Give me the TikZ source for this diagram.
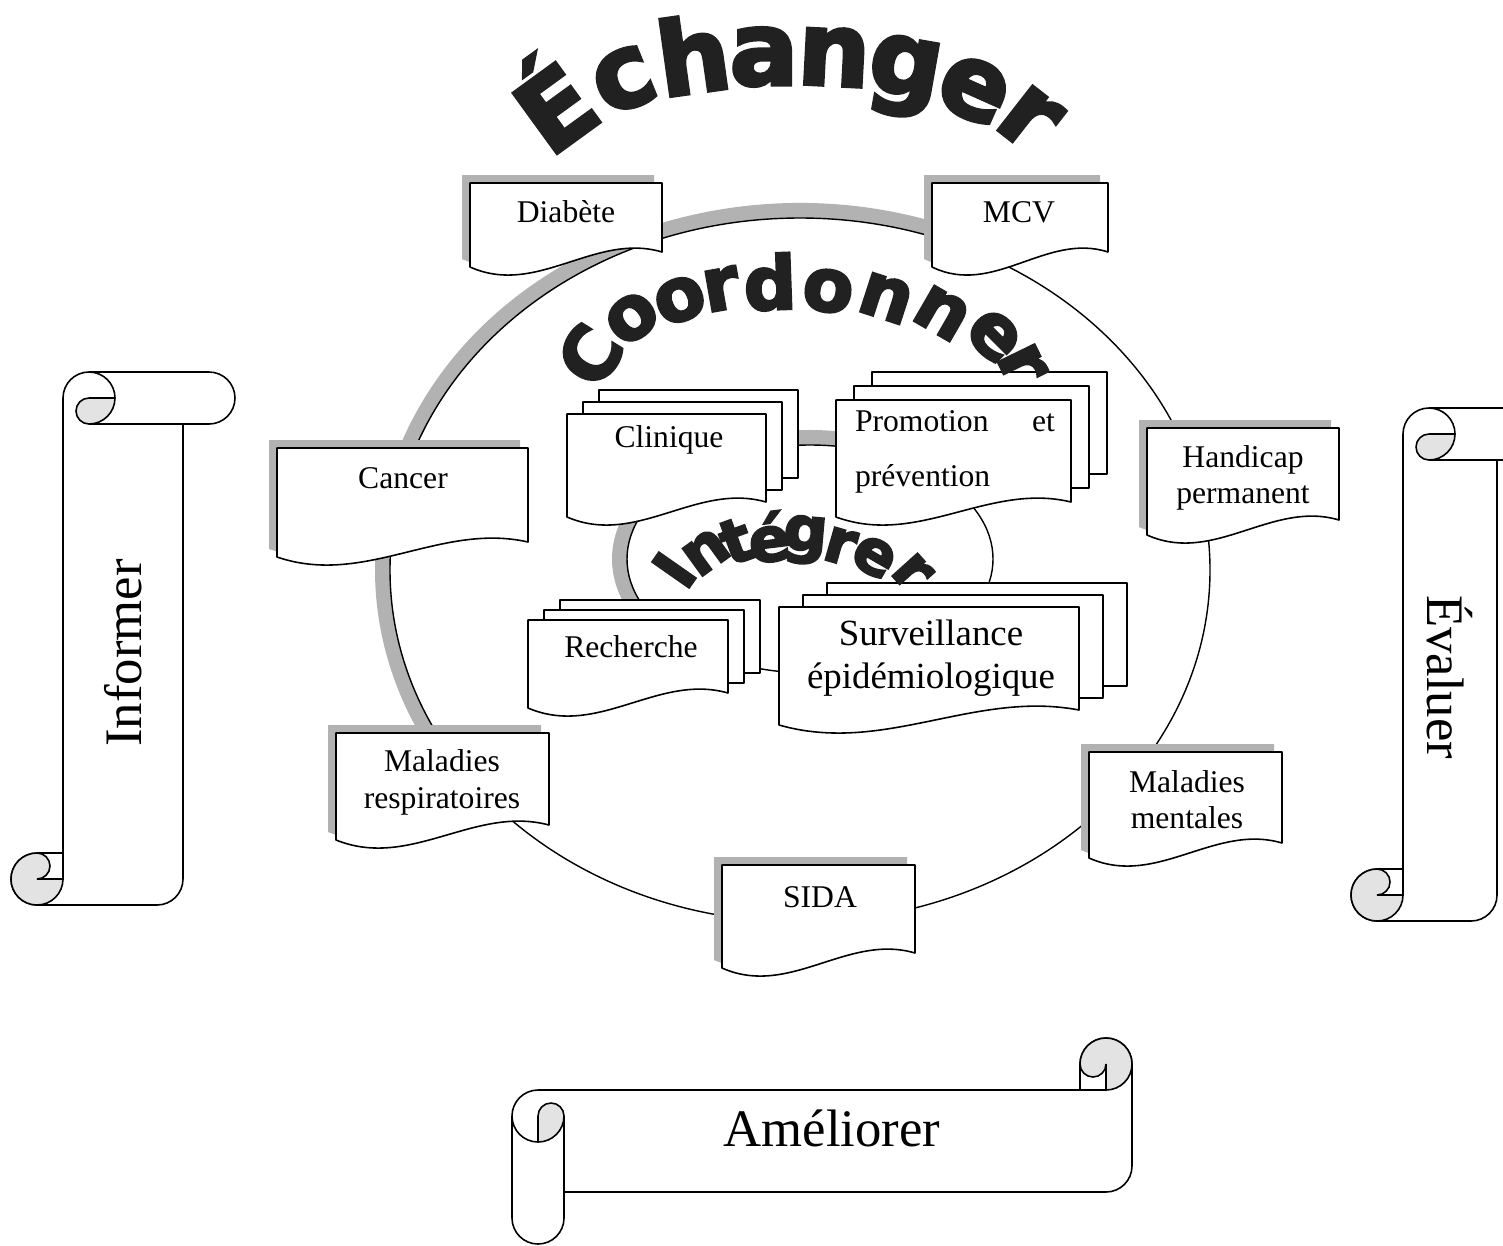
\documentclass[tikz,border=0pt]{standalone}
\usepackage{fontspec}
\setmainfont{Liberation Serif}
\newfontfamily\archfont[FakeBold=3.5]{DejaVu Sans Bold}
\usepackage{tikz}

\tikzset{
  docline/.style={draw=black, fill=white, line width=0.9pt, line join=round},
  docshadow/.style={fill=gray!60},
  ringline/.style={line width=0.8pt},
  ringband/.style={line width=0.3cm, gray!60},
  curl/.style={fill=gray!22},
  scrollline/.style={draw=black, fill=white, line width=0.9pt, line join=round},
  rollline/.style={line width=0.9pt},
  lbl/.style={font=\fontsize{18}{21}\selectfont, align=center, inner sep=0pt},
  bigword/.style={font=\fontsize{30}{30}\selectfont, inner sep=0pt},
  archletter/.style={text=black!87, inner sep=0pt},
}

% document with wavy bottom and shadow: x, top, width, bottom-left
\newcommand{\onedoc}[4]{%
  \foreach \st/\s in {docshadow/8, docline/0}
    \path[\st, shift={(-\s,-\s)}] (#1,#2) -- ({#1+#3},#2) -- ({#1+#3},{#4-15})
      .. controls ({#1+0.65*#3},{#4-35}) and ({#1+0.35*#3},{#4+30}) .. (#1,#4) -- cycle;
}
% stack of three documents: x, top, width, bottom-left, dx, dy
\newcommand{\multidoc}[6]{%
  \foreach \k in {2,1}
    \path[docline] ({#1+\k*#5},{#2-\k*#6}) rectangle ({#1+#3+\k*#5},{#4-15-\k*#6});
  \path[docline] (#1,#2) -- ({#1+#3},#2) -- ({#1+#3},{#4-15})
    .. controls ({#1+0.65*#3},{#4-35}) and ({#1+0.35*#3},{#4+30}) .. (#1,#4) -- cycle;
}
% vertical scroll: left, top, right, bottom, roll size
\newcommand{\vscroll}[5]{%
  \pgfmathsetmacro{\halfr}{#5/2}\pgfmathsetmacro{\quartr}{#5/4}
  \path[scrollline] ({#1+#5+\halfr},#2) arc[start angle=270, end angle=180, radius=\halfr]
    -- ({#1+#5},{#4-#5}) -- ({#1+\halfr},{#4-#5}) arc[start angle=270, end angle=90, radius=\halfr]
    -- ({#3-#5-\halfr},#4) arc[start angle=90, end angle=0, radius=\halfr]
    -- ({#3-#5},{#2+#5}) -- ({#3-\halfr},{#2+#5}) arc[start angle=90, end angle=-90, radius=\halfr]
    -- cycle;
  % top curl
  \fill[curl] ({#1+#5+\halfr},{#2+\halfr}) -- ({#1+2*#5},{#2+\halfr}) arc[start angle=0, end angle=90, radius=\halfr]
    arc[start angle=90, end angle=270, radius=\quartr] -- cycle;
  \draw[rollline] ({#1+#5+\halfr},#2) arc[start angle=270, end angle=450, radius=\halfr];
  \draw[rollline] ({#1+2*#5},{#2+\halfr}) -- ({#1+#5+\halfr},{#2+\halfr})
    arc[start angle=270, end angle=90, radius=\quartr] -- ({#3-#5},{#2+#5});
  % bottom curl
  \fill[curl] ({#1+\halfr},{#4-\halfr}) circle[radius=\halfr];
  \fill[white] ({#1+\halfr},{#4-#5}) arc[start angle=270, end angle=450, radius=\quartr]
    -- ({#1+#5},{#4-\halfr}) -- ({#1+#5},{#4-#5}) -- cycle;
  \draw[rollline] ({#1+#5},{#4-#5}) -- ({#1+\halfr},{#4-#5})
    arc[start angle=270, end angle=90, radius=\halfr] -- ({#1+#5},#4);
  \draw[rollline] ({#1+\halfr},{#4-#5}) arc[start angle=270, end angle=450, radius=\quartr]
    -- ({#1+#5},{#4-\halfr}) -- ({#1+#5},{#4-#5});
  \draw[rollline] ({#1+\halfr},#4) arc[start angle=90, end angle=0, radius=\halfr];
}
% horizontal scroll: left, top, right, bottom, roll size
\newcommand{\hscroll}[5]{%
  \pgfmathsetmacro{\halfr}{#5/2}\pgfmathsetmacro{\quartr}{#5/4}
  \path[scrollline] (#1,{#2+#5+\halfr}) arc[start angle=180, end angle=270, radius=\halfr]
    -- ({#3-#5},{#2+#5}) -- ({#3-#5},{#2+\halfr}) arc[start angle=180, end angle=360, radius=\halfr]
    -- (#3,{#4-#5-\halfr}) arc[start angle=0, end angle=90, radius=\halfr]
    -- ({#1+#5},{#4-#5}) -- ({#1+#5},{#4-\halfr}) arc[start angle=0, end angle=180, radius=\halfr]
    -- cycle;
  % left curl
  \fill[curl] ({#1+\halfr},{#2+#5+\halfr}) -- ({#1+\halfr},{#2+2*#5}) arc[start angle=90, end angle=0, radius=\halfr]
    arc[start angle=0, end angle=-180, radius=\quartr] -- cycle;
  \draw[rollline] (#1,{#2+#5+\halfr}) arc[start angle=180, end angle=0, radius=\halfr] -- ({#1+#5},{#4-#5});
  \draw[rollline] ({#1+\halfr},{#2+2*#5}) -- ({#1+\halfr},{#2+#5+\halfr})
    arc[start angle=180, end angle=360, radius=\quartr];
  % right curl
  \fill[curl] ({#3-\halfr},{#2+\halfr}) circle[radius=\halfr];
  \fill[white] ({#3-#5},{#2+\halfr}) arc[start angle=180, end angle=0, radius=\quartr]
    -- ({#3-\halfr},{#2+#5}) -- ({#3-#5},{#2+#5}) -- cycle;
  \draw[rollline] ({#3-#5},{#2+#5}) -- ({#3-#5},{#2+\halfr})
    arc[start angle=180, end angle=360, radius=\halfr] -- (#3,{#2+#5});
  \draw[rollline] ({#3-#5},{#2+\halfr}) arc[start angle=180, end angle=0, radius=\quartr]
    -- ({#3-\halfr},{#2+#5}) -- ({#3-#5},{#2+#5});
  \draw[rollline] (#3,{#2+\halfr}) arc[start angle=0, end angle=90, radius=\halfr];
}

\begin{document}
\begin{tikzpicture}[x=0.02cm, y=-0.02cm]
    \useasboundingbox (0,0) rectangle (1503,1245);
    \clip (0,0) rectangle (1503,1245);

    % Outer ring
    \draw[ringband] (800,570) ++(-68:417.5 and 359.5)
        arc[start angle=-68, end angle=-212, x radius=417.5, y radius=359.5];
    \draw[ringline] (800,570) ellipse[x radius=410, y radius=352];

    % Inner ring
    \draw[ringband] (810,559) ++(-78:190.5 and 121.5)
        arc[start angle=-78, end angle=-222, x radius=190.5, y radius=121.5];
    \draw[ringline] (810,559) ellipse[x radius=183, y radius=114];

    % Diseases
    \onedoc{470}{183}{192}{267}
    \onedoc{932}{183}{176}{267}
    \onedoc{277}{448}{251}{557}
    \onedoc{1147}{428}{192}{535}
    \onedoc{336}{733}{213}{840}
    \onedoc{1089}{752}{193}{858}
    \onedoc{722}{865}{193}{968}

    % Activities
    \multidoc{567}{414}{199}{517}{16}{12}
    \multidoc{836}{400}{235}{517}{18}{14}
    \multidoc{528}{620}{200}{708}{16}{10}
    \multidoc{779}{607}{300}{725}{24}{12}

    % Labels
    \node[lbl] (diabete) at (566,212) {Diabète};
    \node[lbl] (mcv) at (1019,212) {MCV};
    \node[lbl] (cancer) at (403,478) {Cancer};
    \node[lbl, font=\fontsize{18}{20.5}\selectfont] (handicap) at (1243,478) {Handicap\\permanent};
    \node[lbl, font=\fontsize{18}{21}\selectfont] (respi) at (442,782) {Maladies\\respiratoires};
    \node[lbl, font=\fontsize{18}{20.5}\selectfont] (mentales) at (1187,800) {Maladies\\mentales};
    \node[lbl] (sida) at (820,897) {SIDA};
    \node[lbl] (clinique) at (669,440) {Clinique};
    \node[lbl, text width=4cm, align=justify, font=\fontsize{18}{31}\selectfont] (promo) at (955,452)
        {Promotion et prévention};
    \node[lbl] (recherche) at (631,647) {Recherche};
    \node[lbl, font=\fontsize{21}{24.5}\selectfont] (surv) at (931,658) {Surveillance\\épidémiologique};

    % Arched words
    \foreach \ch/\x/\y/\r [count=\i] in {É/550/100/36, c/624/80/22, h/693/54/8, a/764/57/0,
        n/834/57/-3, g/904/77/-10, e/974/90/-24, r/1029/118/-38}
      \node[archletter, font=\archfont\fontsize{58}{58}\selectfont, rotate=\r] (ech\i) at (\x,\y) {\ch};
    \foreach \ch/\x/\y/\r [count=\i] in {C/590/355/58, o/632/318/38, o/680/300/22, r/721/289/10,
        d/770/282/2, o/828/291/-8, n/886/298/-18, n/942/313/-30, e/994/336/-45, r/1022/364/-64}
      \node[archletter, font=\archfont\fontsize{42}{42}\selectfont, rotate=\r] (coo\i) at (\x,\y) {\ch};
    \foreach \ch/\x/\y/\r [count=\i] in {I/674/570/55, n/706/552/36, t/736/541/20, é/769/537/7,
        g/805/540/-5, r/840/546/-16, e/874/557/-30, r/912/572/-48}
      \node[archletter, font=\archfont\fontsize{35}{35}\selectfont, rotate=\r] (int\i) at (\x,\y) {\ch};

    % Scrolls
    \vscroll{11}{372}{235}{905}{52}
    \vscroll{1351}{408}{1549}{921}{52}
    \hscroll{512}{1038}{1132}{1244}{52}
    \node[bigword, rotate=90] (informer) at (123,653) {Informer};
    \node[bigword, rotate=-90] (evaluer) at (1450,677) {Évaluer};
    \node[bigword] (ameliorer) at (832,1128) {Améliorer};
\end{tikzpicture}
\end{document}
